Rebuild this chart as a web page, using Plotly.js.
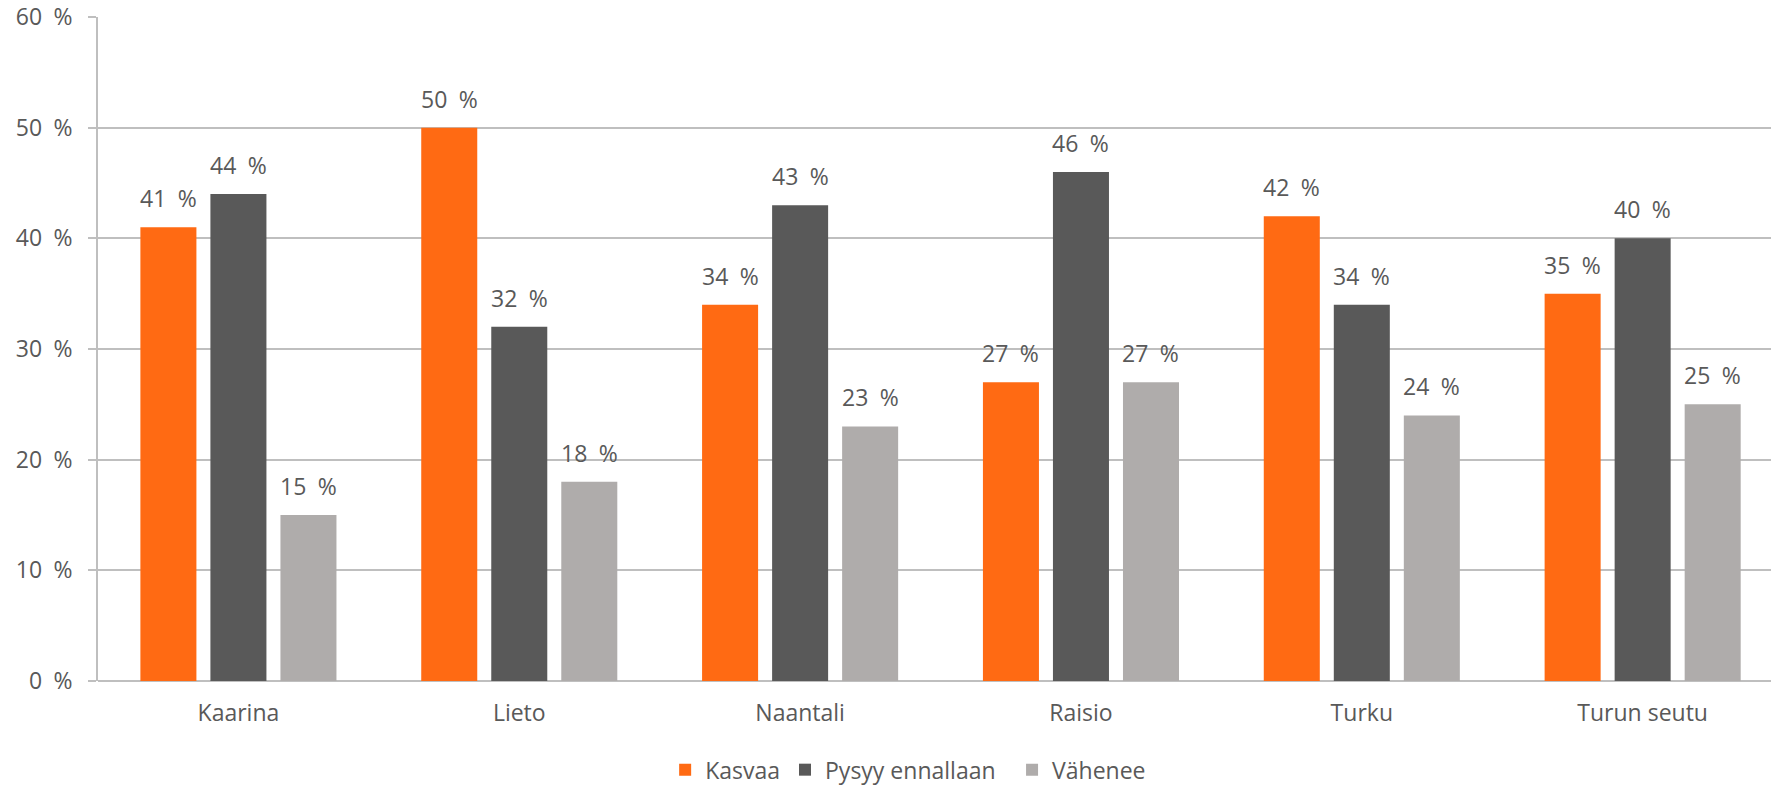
<!DOCTYPE html>
<html>
<head>
<meta charset="utf-8">
<script src="https://cdn.plot.ly/plotly-3.0.1.min.js"></script>
<style>html,body{margin:0;padding:0;background:#fff;overflow:hidden}#chart{width:1771px;height:787px}</style>
</head>
<body>
<div id="chart"></div>
<script>
const categories = ["Kaarina", "Lieto", "Naantali", "Raisio", "Turku", "Turun seutu"];
const seriesNames = ["Kasvaa", "Pysyy ennallaan", "Vähenee"];
const kasvaa = [41, 50, 34, 27, 42, 35];
const pysyy = [44, 32, 43, 46, 34, 40];
const vahenee = [15, 18, 23, 27, 24, 25];
const tickValues = [0, 10, 20, 30, 40, 50, 60];
const tickLabels = ["0\u2002%", "10\u2002%", "20\u2002%", "30\u2002%", "40\u2002%", "50\u2002%", "60\u2002%"];

const colors = ["#FF6A13", "#595959", "#AFACAB"];
const allSeries = [kasvaa, pysyy, vahenee];
const FONT = "'Open Sans', 'Noto Sans', sans-serif";
const TXT = "#595959";
const FS = 23;

const traces = allSeries.map((vals, i) => ({
  type: "bar",
  name: i === 1 ? seriesNames[i] + "\u2002" : seriesNames[i],
  x: categories,
  y: vals,
  marker: { color: colors[i] },
  hoverinfo: "x+y+name"
}));

const annotations = [];
allSeries.forEach((vals, i) => {
  vals.forEach((v, j) => {
    annotations.push({
      x: categories[j], y: v, xref: "x", yref: "y",
      text: v + "\u2002%", showarrow: false,
      yanchor: "bottom", xanchor: "center",
      xshift: (i - 1) * 70, yshift: 11,
      font: { family: FONT, size: FS, color: TXT }
    });
  });
});

const layout = {
  width: 1771, height: 787,
  margin: { l: 98, r: 0, t: 17, b: 106, pad: 0, autoexpand: false },
  paper_bgcolor: "#fff", plot_bgcolor: "#fff",
  barmode: "group", bargap: 0.252, bargroupgap: 0.2,
  font: { family: FONT, size: FS, color: TXT },
  showlegend: true,
  legend: {
    orientation: "h", x: 0.339, xanchor: "left", y: -0.166, yanchor: "bottom",
    font: { family: FONT, size: FS, color: TXT }, traceorder: "normal",
    itemwidth: 30
  },
  xaxis: {
    type: "category", range: [-0.5, 5.457],
    showgrid: false, zeroline: false, showline: false, ticks: "",
    ticklabelstandoff: 16,
    tickfont: { family: FONT, size: FS, color: TXT }
  },
  yaxis: {
    range: [0, 60], tickvals: tickValues, ticktext: tickLabels,
    showgrid: true, gridcolor: "#BFBFBF", gridwidth: 1.5,
    zeroline: true, zerolinecolor: "#BFBFBF", zerolinewidth: 1.5,
    showline: true, linecolor: "#BFBFBF", linewidth: 1.5,
    ticks: "outside", ticklen: 8, tickcolor: "#BFBFBF", tickwidth: 1.5,
    ticklabelstandoff: 11,
    tickfont: { family: FONT, size: FS, color: TXT }
  },
  annotations: annotations
};

Plotly.newPlot("chart", traces, layout, { displayModeBar: false, responsive: false });
</script>
</body>
</html>
